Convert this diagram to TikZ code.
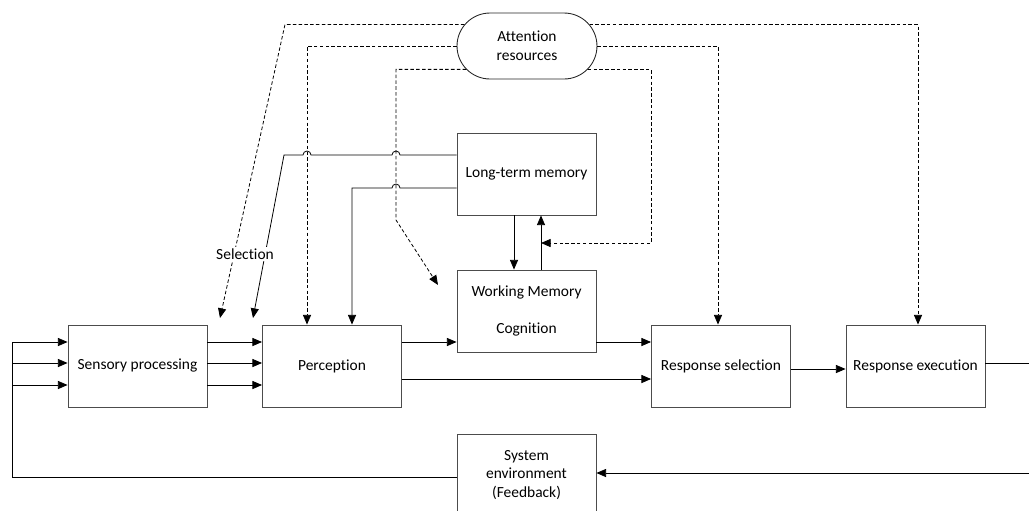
\documentclass[tikz,border=0pt]{standalone}
\usepackage{fontspec}
\setmainfont{Carlito}[Ligatures=NoCommon]
\usetikzlibrary{arrows.meta}
\usetikzlibrary{shapes.misc}

\begin{document}
\begin{tikzpicture}[x=0.02cm, y=-0.02cm,
        every node/.style={font=\fontsize{8.8}{10.6}\selectfont},
        block/.style={draw=black!70, line width=0.5pt, minimum width=2.78cm,
            minimum height=1.64cm, inner sep=0pt, align=center},
        flow/.style={line width=0.45pt, -{Triangle[length=5.5pt,width=4.6pt]}},
        plain/.style={line width=0.45pt},
        attn/.style={dash pattern=on 2pt off 1.3pt, line width=0.45pt}]
        \useasboundingbox (0, 0) rectangle (1029, 511);
        \clip (0, 0) rectangle (1029, 511);

        \node [block] (sp) at (137.5, 366) {Sensory processing};
        \node [block] (per) at (332, 366) {Perception};
        \node [block] (ltm) at (526.5, 174) {Long-term memory};
        \node [block] (wm) at (526.5, 311) {Working Memory\\[10pt]Cognition};
        \node [block] (rs) at (721, 366) {Response selection};
        \node [block] (re) at (915.5, 366) {Response execution};
        \node [block] (env) at (526.5, 475) {System\\environment\\(Feedback)};
        \node [draw=black!85, line width=0.5pt, rounded rectangle, minimum width=2.8cm,
            minimum height=1.32cm, inner sep=0pt, align=center] (att) at (527, 46)
            {Attention\\resources};

        \coordinate (spin) at (220, 318);
        \coordinate (perin) at (253, 318);
        \coordinate (wmin) at (438, 285);

        % feedback loop
        \draw [plain] (env.west |- 0, 477) -| (12, 342);
        \foreach \y in {342, 363, 385} {
            \draw [flow] (12, \y) -- (sp.west |- 0, \y);
            \draw [flow] (sp.east |- 0, \y) -- (per.west |- 0, \y);
        }
        \draw [flow] (re.east |- 0, 363) -- (1040, 363) -- (1040, 473)
            -- (env.east |- 0, 473);

        % main flow
        \draw [flow] (per.east |- 0, 342) -- (wm.west |- 0, 342);
        \draw [flow] (per.east |- 0, 379) -- (rs.west |- 0, 379);
        \draw [flow] (wm.east |- 0, 342) -- (rs.west |- 0, 342);
        \draw [flow] (rs.east |- 0, 369) -- (re.west |- 0, 369);
        \draw [flow] (ltm.south -| 514, 0) -- (wm.north -| 514, 0);
        \draw [flow] (wm.north -| 541, 0) -- (ltm.south -| 541, 0);

        % attention
        \draw [attn, -{Triangle[length=5.5pt,width=4.6pt]}] (att.161) -- (att.161 -| 285, 0) -- (spin);
        \draw [attn, -{Triangle[length=5.5pt,width=4.6pt]}] (att.west) -| (per.north -| 307, 0);
        \draw [attn, -{Triangle[length=5.5pt,width=4.6pt]}] (att.201) -- (att.201 -| 396, 0)
            -- (396, 220) -- (wmin);
        \draw [attn, -{Triangle[length=5.5pt,width=4.6pt]}] (att.19) -| (re.north -| 918, 0);
        \draw [attn, -{Triangle[length=5.5pt,width=4.6pt]}] (att.east) -| (rs.north -| 718, 0);
        \draw [attn, -{Triangle[length=5.5pt,width=4.6pt]}] (att.339) -- (att.339 -| 651, 0)
            -- (651, 243) -- (541, 243);

        % memory back to perception
        \draw [flow] (ltm.west |- 0, 155) -- (400, 155)
            arc [start angle=0, end angle=-180, radius=4] -- (311, 155)
            arc [start angle=0, end angle=-180, radius=4] -- (284, 155) -- (perin);
        \draw [flow] (ltm.west |- 0, 188) -- (400, 188)
            arc [start angle=0, end angle=-180, radius=4] -- (352, 188)
            -- (per.north -| 352, 0);

        \node [fill=white, inner sep=1pt] (sel) at (245, 254) {Selection};
\end{tikzpicture}
\end{document}
